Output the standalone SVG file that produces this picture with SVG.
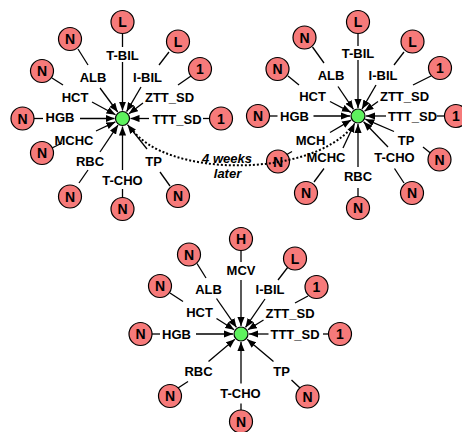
<svg xmlns="http://www.w3.org/2000/svg" width="462" height="432" viewBox="0 0 462 432">
  <style>
    .val circle { fill: #f67a7a; stroke: #000; stroke-width: 1.2; }
    .val text { font: bold 14px "Liberation Sans", Arial, sans-serif; text-anchor: middle; fill: #000; }
    .lbl text { font: bold 13px "Liberation Sans", Arial, sans-serif; text-anchor: middle; fill: #000; }
    .hub circle { fill: #5ef25e; stroke: #000; stroke-width: 1.2; }
    .note { font: italic bold 13px "Liberation Sans", Arial, sans-serif; text-anchor: middle; fill: #000; }
    .tie { stroke: #000; stroke-width: 1.3; fill: none; }
    .arr { stroke: #000; stroke-width: 1.3; fill: none; marker-end: url(#head); }
    .dots { stroke: #000; stroke-width: 2; fill: none; stroke-dasharray: 2 2; }
  </style>
  <defs>
    <marker id="head" viewBox="0 0 10 8" refX="10" refY="4" markerWidth="9" markerHeight="7.5" markerUnits="userSpaceOnUse" orient="auto">
      <path d="M0,0 L10,4 L0,8 z" fill="#000"/>
    </marker>
  </defs>

  <!-- connectors -->
  <g id="connectors">
    <!-- cluster 1 -->
    <line class="tie" x1="122.5" y1="34" x2="122.5" y2="47"/>
    <line class="arr" x1="122.5" y1="62" x2="122.5" y2="110.5"/>
    <line class="tie" x1="78" y1="49" x2="88" y2="65"/>
    <line class="arr" x1="100" y1="88" x2="117.7" y2="112"/>
    <line class="tie" x1="169" y1="52" x2="159" y2="65"/>
    <line class="arr" x1="141" y1="87" x2="126.6" y2="111.6"/>
    <line class="tie" x1="52" y1="78" x2="63" y2="85"/>
    <line class="arr" x1="92" y1="102" x2="115.5" y2="114.7"/>
    <line class="tie" x1="191" y1="76" x2="178" y2="85"/>
    <line class="arr" x1="143" y1="103" x2="128.9" y2="113.7"/>
    <line class="tie" x1="34" y1="118.5" x2="43" y2="118.5"/>
    <line class="arr" x1="80" y1="118.5" x2="114.5" y2="118.5"/>
    <line class="tie" x1="203" y1="118.5" x2="209.5" y2="118.5"/>
    <line class="arr" x1="149" y1="118.5" x2="130.5" y2="118.5"/>
    <line class="tie" x1="52" y1="148" x2="62" y2="143"/>
    <line class="arr" x1="96" y1="131" x2="115.3" y2="121.9"/>
    <line class="tie" x1="79" y1="183" x2="88" y2="170"/>
    <line class="arr" x1="100" y1="152" x2="118" y2="125.1"/>
    <line class="tie" x1="122.5" y1="198" x2="122.5" y2="189"/>
    <line class="arr" x1="122.5" y1="170" x2="122.5" y2="126.5"/>
    <line class="tie" x1="170" y1="186" x2="160" y2="172"/>
    <line class="arr" x1="147" y1="149" x2="127.5" y2="124.7"/>

    <!-- cluster 2 -->
    <line class="tie" x1="358" y1="34" x2="358" y2="46"/>
    <line class="arr" x1="358" y1="60" x2="358" y2="108"/>
    <line class="tie" x1="312.5" y1="47" x2="324" y2="63"/>
    <line class="arr" x1="338" y1="86.5" x2="353.5" y2="109.4"/>
    <line class="tie" x1="404" y1="52" x2="394" y2="65"/>
    <line class="arr" x1="376" y1="85" x2="362" y2="109.1"/>
    <line class="tie" x1="288" y1="76" x2="299" y2="85"/>
    <line class="arr" x1="330" y1="101.5" x2="350.9" y2="112.3"/>
    <line class="tie" x1="431" y1="76" x2="413" y2="85"/>
    <line class="arr" x1="378" y1="101.5" x2="364.5" y2="111.3"/>
    <line class="tie" x1="269.5" y1="116" x2="277.5" y2="116"/>
    <line class="arr" x1="313.5" y1="116" x2="350" y2="116"/>
    <line class="tie" x1="437" y1="116" x2="444.5" y2="116"/>
    <line class="arr" x1="386" y1="116" x2="366" y2="116"/>
    <line class="tie" x1="286" y1="155" x2="292" y2="151.5"/>
    <line class="arr" x1="330" y1="132.5" x2="351.1" y2="120.1"/>
    <line class="tie" x1="314" y1="182" x2="324" y2="168.5"/>
    <line class="arr" x1="343" y1="148" x2="354.6" y2="123.2"/>
    <line class="tie" x1="358" y1="196.5" x2="358" y2="188"/>
    <line class="arr" x1="358" y1="167" x2="358" y2="124"/>
    <line class="tie" x1="404" y1="183" x2="394.5" y2="168.5"/>
    <line class="arr" x1="388" y1="147" x2="363.6" y2="121.8"/>
    <line class="tie" x1="431" y1="153.5" x2="423" y2="147"/>
    <line class="arr" x1="394" y1="131.5" x2="365.3" y2="119.2"/>

    <!-- cluster 3 -->
    <line class="tie" x1="241" y1="250.5" x2="241" y2="262"/>
    <line class="arr" x1="241" y1="280" x2="241" y2="326"/>
    <line class="tie" x1="197" y1="263.5" x2="206" y2="278"/>
    <line class="arr" x1="216.5" y1="298.5" x2="236.5" y2="327.4"/>
    <line class="tie" x1="288" y1="267" x2="278" y2="280"/>
    <line class="arr" x1="265" y1="299" x2="245.5" y2="327.4"/>
    <line class="tie" x1="170" y1="293" x2="183" y2="301.5"/>
    <line class="arr" x1="216.5" y1="318.5" x2="234.2" y2="329.7"/>
    <line class="tie" x1="308" y1="296" x2="295" y2="303"/>
    <line class="arr" x1="263.5" y1="320" x2="247.8" y2="329.8"/>
    <line class="tie" x1="152" y1="334" x2="160" y2="334"/>
    <line class="arr" x1="196" y1="334" x2="233" y2="334"/>
    <line class="tie" x1="323" y1="334" x2="328.5" y2="334"/>
    <line class="arr" x1="268.5" y1="334" x2="249" y2="334"/>
    <line class="tie" x1="178" y1="388" x2="188" y2="381.5"/>
    <line class="arr" x1="208.5" y1="361.5" x2="234.9" y2="339.2"/>
    <line class="tie" x1="241" y1="410" x2="241" y2="403.5"/>
    <line class="arr" x1="241" y1="383.5" x2="241" y2="342"/>
    <line class="tie" x1="300" y1="388" x2="291.5" y2="380"/>
    <line class="arr" x1="273.5" y1="361.5" x2="247.1" y2="339.2"/>
  </g>

  <!-- cluster 1 -->
  <g id="c1-hub" class="hub"><circle cx="122.5" cy="118.5" r="7"/></g>
  <g id="c1-tbil-v" class="val"><circle cx="122.5" cy="22" r="11.5"/><text x="122.5" y="27">L</text></g>
  <g id="c1-alb-v" class="val"><circle cx="70" cy="39" r="11.5"/><text x="70" y="44">N</text></g>
  <g id="c1-ibil-v" class="val"><circle cx="178" cy="41.5" r="11.5"/><text x="178" y="46.5">L</text></g>
  <g id="c1-hct-v" class="val"><circle cx="42" cy="71" r="11.5"/><text x="42" y="76">N</text></g>
  <g id="c1-ztt-v" class="val"><circle cx="200" cy="69" r="11.5"/><text x="200" y="74">1</text></g>
  <g id="c1-hgb-v" class="val"><circle cx="22.5" cy="118.5" r="11.5"/><text x="22.5" y="123.5">N</text></g>
  <g id="c1-ttt-v" class="val"><circle cx="221" cy="118.5" r="11.5"/><text x="221" y="123.5">1</text></g>
  <g id="c1-mchc-v" class="val"><circle cx="42" cy="153" r="11.5"/><text x="42" y="158">N</text></g>
  <g id="c1-rbc-v" class="val"><circle cx="70" cy="196.5" r="11.5"/><text x="70" y="201.5">N</text></g>
  <g id="c1-tcho-v" class="val"><circle cx="122.5" cy="209" r="11.5"/><text x="122.5" y="214">N</text></g>
  <g id="c1-tp-v" class="val"><circle cx="178" cy="196" r="11.5"/><text x="178" y="201">N</text></g>
  <g id="c1-tbil" class="lbl"><text x="122.5" y="59.5">T-BIL</text></g>
  <g id="c1-alb" class="lbl"><text x="93" y="81.5">ALB</text></g>
  <g id="c1-ibil" class="lbl"><text x="147.5" y="81.5">I-BIL</text></g>
  <g id="c1-hct" class="lbl"><text x="75" y="102">HCT</text></g>
  <g id="c1-ztt" class="lbl"><text x="169.5" y="102">ZTT_SD</text></g>
  <g id="c1-hgb" class="lbl"><text x="60" y="122">HGB</text></g>
  <g id="c1-ttt" class="lbl"><text x="177" y="123.5">TTT_SD</text></g>
  <g id="c1-mchc" class="lbl"><text x="74" y="144.5">MCHC</text></g>
  <g id="c1-rbc" class="lbl"><text x="90" y="165.5">RBC</text></g>
  <g id="c1-tcho" class="lbl"><text x="122.5" y="184.5">T-CHO</text></g>
  <g id="c1-tp" class="lbl"><text x="153.5" y="165.5">TP</text></g>

  <!-- cluster 2 -->
  <g id="c2-hub" class="hub"><circle cx="358" cy="116" r="7"/></g>
  <g id="c2-tbil-v" class="val"><circle cx="358" cy="22" r="11.5"/><text x="358" y="27">L</text></g>
  <g id="c2-alb-v" class="val"><circle cx="304.5" cy="37.5" r="11.5"/><text x="304.5" y="42.5">N</text></g>
  <g id="c2-ibil-v" class="val"><circle cx="412.5" cy="41.5" r="11.5"/><text x="412.5" y="46.5">L</text></g>
  <g id="c2-hct-v" class="val"><circle cx="277.5" cy="69" r="11.5"/><text x="277.5" y="74">N</text></g>
  <g id="c2-ztt-v" class="val"><circle cx="440" cy="68" r="11.5"/><text x="440" y="73">1</text></g>
  <g id="c2-hgb-v" class="val"><circle cx="258" cy="116" r="11.5"/><text x="258" y="121">N</text></g>
  <g id="c2-ttt-v" class="val"><circle cx="456" cy="116" r="11.5"/><text x="456" y="121">1</text></g>
  <g id="c2-mch-v" class="val"><circle cx="278" cy="161.5" r="11.5"/><text x="278" y="166.5">N</text></g>
  <g id="c2-mchc-v" class="val"><circle cx="306" cy="193" r="11.5"/><text x="306" y="198">N</text></g>
  <g id="c2-rbc-v" class="val"><circle cx="358" cy="208" r="11.5"/><text x="358" y="213">N</text></g>
  <g id="c2-tcho-v" class="val"><circle cx="412" cy="193" r="11.5"/><text x="412" y="198">N</text></g>
  <g id="c2-tp-v" class="val"><circle cx="439.5" cy="159.5" r="11.5"/><text x="439.5" y="164.5">N</text></g>
  <g id="c2-tbil" class="lbl"><text x="358" y="57.5">T-BIL</text></g>
  <g id="c2-alb" class="lbl"><text x="331" y="79.5">ALB</text></g>
  <g id="c2-ibil" class="lbl"><text x="383" y="79.5">I-BIL</text></g>
  <g id="c2-hct" class="lbl"><text x="312.5" y="100.5">HCT</text></g>
  <g id="c2-ztt" class="lbl"><text x="404.5" y="100.5">ZTT_SD</text></g>
  <g id="c2-hgb" class="lbl"><text x="294.5" y="120.5">HGB</text></g>
  <g id="c2-ttt" class="lbl"><text x="412.5" y="120.5">TTT_SD</text></g>
  <g id="c2-mch" class="lbl"><text x="310.5" y="144.5">MCH</text></g>
  <g id="c2-mchc" class="lbl"><text x="326" y="161.5">MCHC</text></g>
  <g id="c2-rbc" class="lbl"><text x="358" y="180.5">RBC</text></g>
  <g id="c2-tcho" class="lbl"><text x="394.5" y="161.5">T-CHO</text></g>
  <g id="c2-tp" class="lbl"><text x="406" y="144.5">TP</text></g>

  <!-- cluster 3 -->
  <g id="c3-hub" class="hub"><circle cx="241" cy="334" r="7"/></g>
  <g id="c3-mcv-v" class="val"><circle cx="241" cy="239" r="11.5"/><text x="241" y="244">H</text></g>
  <g id="c3-alb-v" class="val"><circle cx="189" cy="254.5" r="11.5"/><text x="189" y="259.5">N</text></g>
  <g id="c3-ibil-v" class="val"><circle cx="295" cy="258.5" r="11.5"/><text x="295" y="263.5">L</text></g>
  <g id="c3-hct-v" class="val"><circle cx="160" cy="286" r="11.5"/><text x="160" y="291">N</text></g>
  <g id="c3-ztt-v" class="val"><circle cx="316.5" cy="287" r="11.5"/><text x="316.5" y="292">1</text></g>
  <g id="c3-hgb-v" class="val"><circle cx="140.5" cy="334" r="11.5"/><text x="140.5" y="339">N</text></g>
  <g id="c3-ttt-v" class="val"><circle cx="340" cy="334" r="11.5"/><text x="340" y="339">1</text></g>
  <g id="c3-rbc-v" class="val"><circle cx="170" cy="396" r="11.5"/><text x="170" y="401">N</text></g>
  <g id="c3-tcho-v" class="val"><circle cx="241" cy="421.5" r="11.5"/><text x="241" y="426.5">N</text></g>
  <g id="c3-tp-v" class="val"><circle cx="307.5" cy="396.5" r="11.5"/><text x="307.5" y="401.5">N</text></g>
  <g id="c3-mcv" class="lbl"><text x="241" y="274.5">MCV</text></g>
  <g id="c3-alb" class="lbl"><text x="208.5" y="293.5">ALB</text></g>
  <g id="c3-ibil" class="lbl"><text x="270" y="293.5">I-BIL</text></g>
  <g id="c3-hct" class="lbl"><text x="199.5" y="317">HCT</text></g>
  <g id="c3-ztt" class="lbl"><text x="290" y="317.5">ZTT_SD</text></g>
  <g id="c3-hgb" class="lbl"><text x="176.5" y="338.5">HGB</text></g>
  <g id="c3-ttt" class="lbl"><text x="295" y="338.5">TTT_SD</text></g>
  <g id="c3-rbc" class="lbl"><text x="198.5" y="376">RBC</text></g>
  <g id="c3-tcho" class="lbl"><text x="240.5" y="397.5">T-CHO</text></g>
  <g id="c3-tp" class="lbl"><text x="281.5" y="376">TP</text></g>

  <!-- dotted link between the first two snapshots, drawn over the nodes it crosses -->
  <g id="link">
    <path class="dots" d="M131,128 C165,178 310,178 352,127"/>
    <text class="note" x="227" y="162.5">4 weeks</text>
    <text class="note" x="227.5" y="178">later</text>
  </g>
</svg>
